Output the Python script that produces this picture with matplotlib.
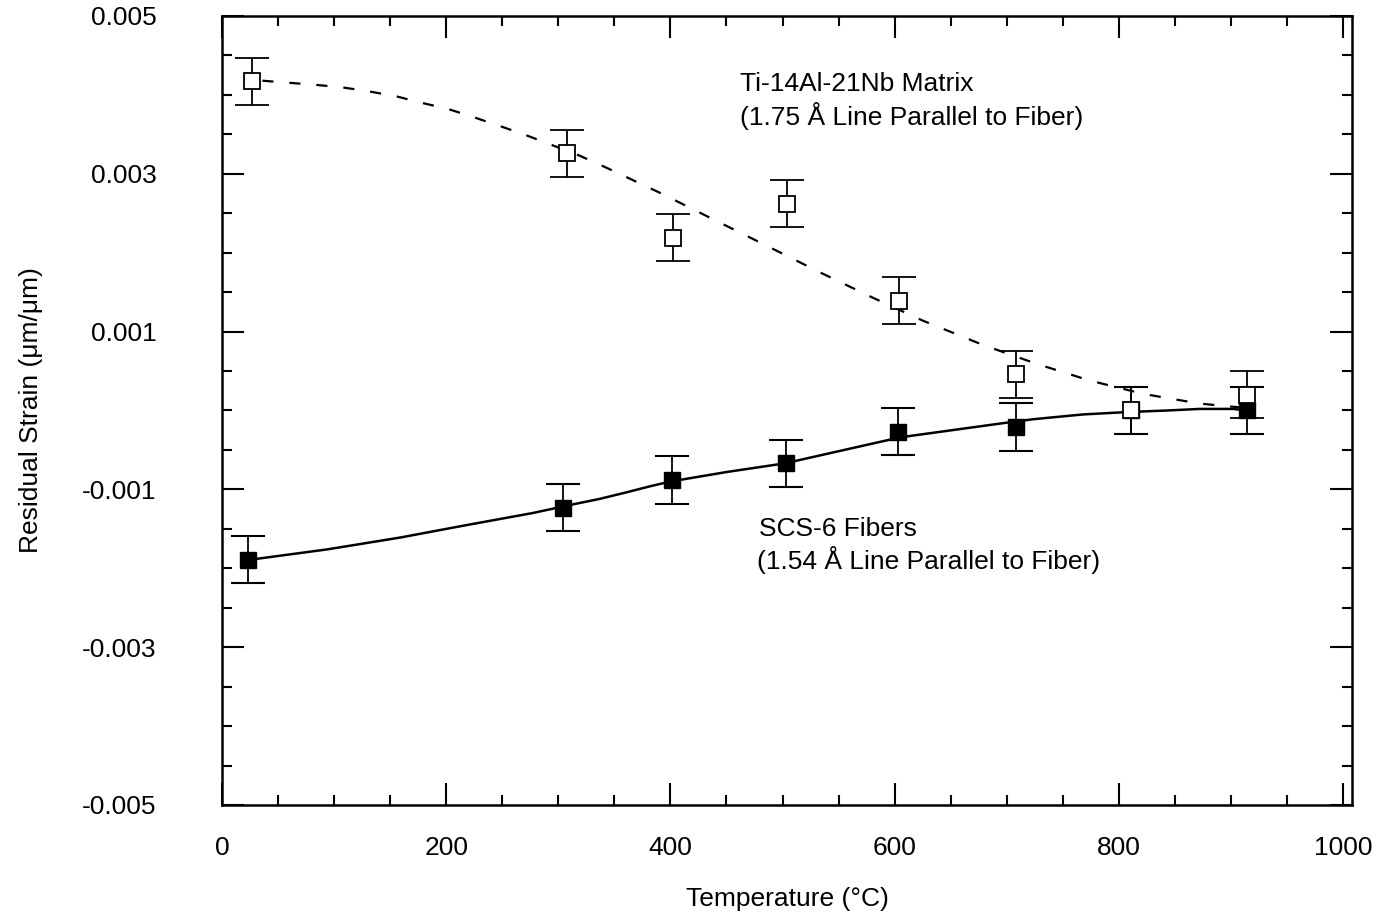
import numpy as np
import matplotlib
matplotlib.use("Agg")
import matplotlib.pyplot as plt
from matplotlib.ticker import MultipleLocator, FixedLocator

plt.rcParams['font.family'] = ['Liberation Sans', 'DejaVu Sans']
plt.rcParams['lines.scale_dashes'] = False

# measured points, Ti-14Al-21Nb matrix (open squares)
matrix_temp = [27, 308, 402, 504, 604, 708, 811, 914]
matrix_strain = [0.00417, 0.00326, 0.00219, 0.00262, 0.00139, 0.00046, 0.0000, 0.00020]
matrix_err = [0.0003, 0.0003, 0.0003, 0.0003, 0.0003, 0.0003, 0.0003, 0.0003]

# measured points, SCS-6 fibers (filled squares)
fiber_temp = [23, 304, 401, 503, 603, 708, 811, 914]
fiber_strain = [-0.00189, -0.00123, -0.00088, -0.00067, -0.00027, -0.00021, 0.0000, 0.0000]
fiber_err = [0.0003, 0.0003, 0.0003, 0.0003, 0.0003, 0.0003, 0.0003, 0.0003]

# fitted curves
matrix_fit_t = [36, 54, 81, 105, 129, 156, 178, 202, 224, 249, 273, 319, 344,
                392, 440, 487, 535, 582, 625, 679, 727, 774, 822, 871, 892, 908]
matrix_fit_s = [0.00418, 0.00416, 0.00413, 0.00410, 0.00405, 0.00398, 0.00390,
                0.00382, 0.00372, 0.00360, 0.00348, 0.00323, 0.00307, 0.00275,
                0.00241, 0.00208, 0.00174, 0.00142, 0.00114, 0.00083, 0.00059,
                0.00038, 0.00021, 0.00009, 0.00006, 0.00004]
fiber_fit_t = [23, 31, 94, 159, 219, 277, 313, 337, 360, 382, 400, 450, 502,
               555, 605, 656, 697, 724, 768, 807, 843, 872, 902, 914]
fiber_fit_s = [-0.00189, -0.00188, -0.00176, -0.00161, -0.00145, -0.00130,
               -0.00119, -0.00112, -0.00104, -0.00096, -0.00090, -0.00078,
               -0.00067, -0.00050, -0.00034, -0.00024, -0.00016, -0.00011,
               -0.00005, -0.00002, 0.0, 0.00002, 0.00002, 0.0]

y_ticks = [0.005, 0.003, 0.001, -0.001, -0.003, -0.005]
y_labels = ['0.005', '0.003', '0.001', '-0.001', '-0.003', '-0.005']

fig = plt.figure(figsize=(13.76, 9.18), dpi=100)
ax = fig.add_axes([222 / 1376, 113 / 918, 1130 / 1376, 789 / 918])

ax.plot(matrix_fit_t, matrix_fit_s, color='black', lw=1.6, linestyle=(0, (8, 11.5)))
ax.plot(fiber_fit_t, fiber_fit_s, color='black', lw=1.8)

ax.errorbar(fiber_temp, fiber_strain, yerr=fiber_err, fmt='s', color='black',
            mfc='black', mec='black', ms=12, capsize=12.5, capthick=1.5,
            elinewidth=1.3, zorder=3)
ax.errorbar(matrix_temp, matrix_strain, yerr=matrix_err, fmt='s', color='black',
            mfc='white', mec='black', ms=12, mew=1.3, capsize=12.5, capthick=1.5,
            elinewidth=1.3, zorder=4)

fs = 19
ax.text(462, 0.00405, 'Ti-14Al-21Nb Matrix', fontsize=fs, va='baseline')
ax.text(462, 0.003615, '(1.75 Å Line Parallel to Fiber)', fontsize=fs, va='baseline')
ax.text(479, -0.001595, 'SCS-6 Fibers', fontsize=fs, va='baseline')
ax.text(477, -0.002014, '(1.54 Å Line Parallel to Fiber)', fontsize=fs, va='baseline')

ax.set_xlim(0, 1008)
ax.set_ylim(-0.005, 0.005)
ax.xaxis.set_major_locator(MultipleLocator(200))
ax.xaxis.set_minor_locator(MultipleLocator(50))
ax.yaxis.set_major_locator(FixedLocator(y_ticks))
ax.set_yticklabels(y_labels)
ax.yaxis.set_minor_locator(MultipleLocator(0.0005))

ax.tick_params(which='both', direction='in', top=True, right=True, width=1.5,
               labelsize=fs)
ax.tick_params(axis='x', which='major', length=16, pad=22)
ax.tick_params(axis='y', which='major', length=16, pad=47)
ax.tick_params(which='minor', length=7.5)
for s in ax.spines.values():
    s.set_linewidth(1.8)

ax.set_xlabel('Temperature (°C)', fontsize=fs, labelpad=20)
ax.set_ylabel('Residual Strain (μm/μm)', fontsize=fs, labelpad=28)

fig.savefig('out.png', dpi=100)
